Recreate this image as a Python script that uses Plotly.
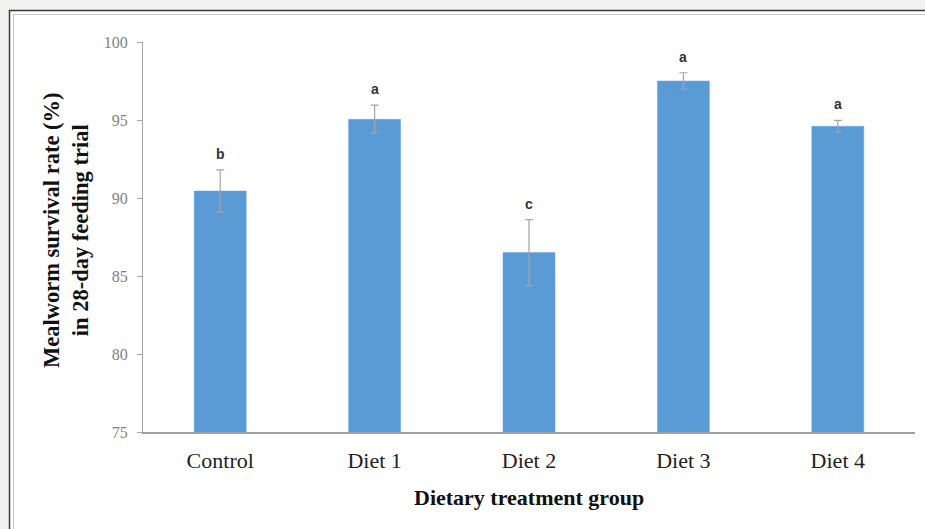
import plotly.graph_objects as go

categories = ["Control", "Diet 1", "Diet 2", "Diet 3", "Diet 4"]
survival = [90.45, 95.05, 86.5, 97.5, 94.6]
std_err = [1.35, 0.9, 2.12, 0.53, 0.37]
letters = ["b", "a", "c", "a", "a"]
y_ticks = [75, 80, 85, 90, 95, 100]

W, H = 925, 529
ML, MR, MT, MB = 143, 10, 42, 97
PW, PH = W - ML - MR, H - MT - MB


def px(x):
    return (x - ML) / PW


def py(y):
    return 1 - (y - MT) / PH


fig = go.Figure()
fig.add_trace(go.Bar(
    x=categories, y=survival,
    marker=dict(color="#5b9bd5", line=dict(color="#6aa6dc", width=0.5)),
    error_y=dict(type="data", array=std_err, visible=True,
                 color="#a5a5a5", thickness=1.2, width=4),
    showlegend=False,
))

for c, v, e, l in zip(categories, survival, std_err, letters):
    fig.add_annotation(x=c, y=v + e, text="<b>" + l + "</b>", showarrow=False,
                       yshift=16, font=dict(family="Liberation Sans", size=14, color="#333333"))

fig.add_annotation(xref="paper", yref="paper", x=px(529), y=py(497),
                   xanchor="center", yanchor="middle",
                   text="<b>Dietary treatment group</b>", showarrow=False,
                   font=dict(family="Liberation Serif", size=22, color="#111111"))
fig.add_annotation(xref="paper", yref="paper", x=px(66), y=py(230),
                   xanchor="center", yanchor="middle",
                   text="<b>Mealworm survival rate (%)<br>in 28-day feeding trial</b>",
                   showarrow=False, textangle=-90,
                   font=dict(family="Liberation Serif", size=22.5, color="#111111"))

# frame
fig.add_shape(type="rect", xref="paper", yref="paper", layer="below",
              x0=px(9.5), x1=px(940), y0=py(10.5), y1=py(545),
              fillcolor="white", line=dict(color="#3a3a3a", width=1.5))
fig.add_shape(type="rect", xref="paper", yref="paper", layer="below",
              x0=px(13.5), x1=px(940), y0=py(14.5), y1=py(545),
              fillcolor="rgba(0,0,0,0)", line=dict(color="#c8c8c4", width=1.2))

fig.update_layout(
    width=W, height=H,
    margin=dict(l=ML, r=MR, t=MT, b=MB),
    paper_bgcolor="#f2f2ee", plot_bgcolor="white",
    bargap=0.663,
    xaxis=dict(showline=True, linecolor="#a0a0a0", linewidth=2, ticks="",
               showgrid=False, tickfont=dict(family="Liberation Serif", size=22, color="#222222"),
               ticklabelstandoff=8),
    yaxis=dict(range=[75, 100], tickvals=y_ticks, showgrid=False, zeroline=False,
               showline=True, linecolor="#a8a8a8", linewidth=1.2,
               ticks="outside", ticklen=5, tickcolor="#a8a8a8", ticklabelstandoff=6,
               tickfont=dict(family="Liberation Serif", size=16, color="#808080")),
)

fig.write_html("out.html", config={"displayModeBar": False},
               post_script="document.body.style.margin='0';document.body.style.background='#f2f2ee';")
